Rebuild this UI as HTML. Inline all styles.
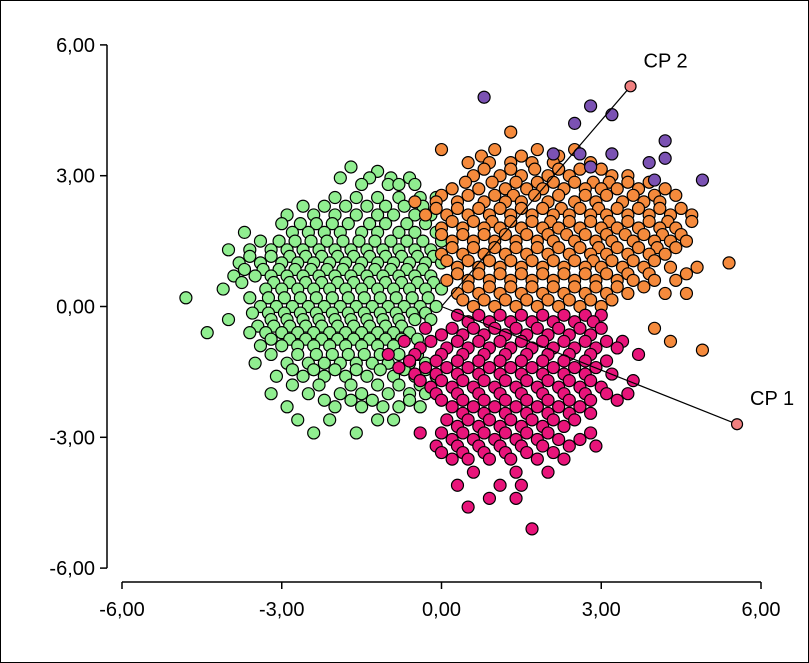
<!DOCTYPE html>
<html><head><meta charset="utf-8">
<style>
html,body{margin:0;padding:0;background:#fff;}
svg{display:block;font-family:"Liberation Sans",sans-serif;}
</style></head>
<body>
<svg id="chart" width="809" height="663" viewBox="0 0 809 663">
<rect x="0.5" y="0.5" width="808" height="662" fill="#fff" stroke="#000"/>
<g id="axes"></g>
<g id="marks"></g>
<g id="vectors"></g>
</svg>
<script>
const xTicks = [-6, -3, 0, 3, 6];
const yTicks = [6, 3, 0, -3, -6];
const tickLabels = {"-6":"-6,00","-3":"-3,00","0":"0,00","3":"3,00","6":"6,00"};
// rows: [y, [x values]]
const greenRows = [
[3.2,[-1.7]],[3.1,[-1.2]],
[2.95,[-1.9,-1.35,-0.95,-0.6]],
[2.8,[-1.5,-1.0,-0.5,-0.8]],
[2.5,[-2.0,-1.6,-1.2,-0.8,-0.4,-0.1]],
[2.3,[-2.6,-2.2,-1.8,-1.4,-1.05,-0.7,-0.35]],
[2.1,[-2.9,-2.4,-2.0,-1.6,-1.2,-0.9,-0.5,-0.2]],
[1.9,[-3.0,-2.65,-2.35,-2.05,-1.75,-1.35,-1.05,-0.65,-0.3]],
[1.7,[-3.7,-2.8,-2.5,-2.2,-1.9,-1.5,-1.2,-0.8,-0.5,-0.1]],
[1.5,[-3.4,-3.05,-2.75,-2.45,-2.15,-1.85,-1.55,-1.25,-0.95,-0.65,-0.35,0.0]],
[1.3,[-4.0,-3.6,-3.2,-2.9,-2.6,-2.3,-2.0,-1.7,-1.4,-1.1,-0.8,-0.5,-0.2]],
[1.15,[-3.6,-3.2,-2.85,-2.55,-2.25,-1.95,-1.65,-1.35,-1.05,-0.75,-0.45,-0.15]],
[1.0,[-3.8,-3.4,-3.0,-2.7,-2.4,-2.1,-1.8,-1.5,-1.2,-0.9,-0.6,-0.3,0.0]],
[0.85,[-3.7,-3.35,-3.05,-2.75,-2.45,-2.15,-1.85,-1.55,-1.25,-0.95,-0.65,-0.35]],
[0.7,[-3.9,-3.5,-3.2,-2.9,-2.6,-2.3,-2.0,-1.7,-1.4,-1.1,-0.8,-0.5,-0.2]],
[0.55,[-3.75,-3.15,-2.85,-2.55,-2.25,-1.95,-1.65,-1.35,-1.05,-0.75,-0.45,-0.15]],
[0.4,[-4.1,-3.3,-3.0,-2.7,-2.4,-2.1,-1.8,-1.5,-1.2,-0.9,-0.6,-0.3,0.0]],
[0.2,[-4.8,-3.6,-3.25,-2.95,-2.65,-2.35,-2.05,-1.75,-1.45,-1.15,-0.85,-0.55,-0.25]],
[0.0,[-3.4,-3.1,-2.8,-2.5,-2.2,-1.9,-1.6,-1.3,-1.0,-0.7,-0.4,-0.1]],
[-0.15,[-3.55,-3.25,-2.95,-2.65,-2.35,-2.05,-1.75,-1.45,-1.15,-0.85,-0.55,-0.3]],
[-0.3,[-4.0,-3.2,-2.9,-2.6,-2.3,-2.0,-1.7,-1.4,-1.1,-0.8,-0.5,-0.2]],
[-0.45,[-3.45,-3.15,-2.85,-2.55,-2.25,-1.95,-1.65,-1.35,-1.05,-0.75]],
[-0.6,[-4.4,-3.6,-3.3,-3.0,-2.7,-2.4,-2.1,-1.8,-1.5,-1.2,-0.9,-0.6]],
[-0.75,[-3.2,-2.85,-2.55,-2.25,-1.95,-1.65,-1.35,-1.05,-0.75,-0.45]],
[-0.9,[-3.4,-3.0,-2.7,-2.4,-2.1,-1.8,-1.5,-1.2,-0.9]],
[-1.1,[-3.2,-2.7,-2.35,-2.05,-1.75,-1.45,-1.15,-0.8,-0.45]],
[-1.3,[-3.5,-2.9,-2.5,-2.2,-1.9,-1.6,-1.3,-1.0,-0.6,-0.3]],
[-1.45,[-2.8,-2.4,-2.0,-1.6,-1.15,-0.7,-0.3]],
[-1.6,[-3.1,-2.6,-2.2,-1.8,-1.4,-0.9,-0.5,-0.1]],
[-1.8,[-2.8,-2.3,-1.7,-1.2,-0.8,-0.4]],
[-2.0,[-3.2,-2.5,-1.9,-1.5,-1.0,-0.6,-0.3]],
[-2.15,[-2.2,-1.7,-1.3,-0.6]],
[-2.3,[-2.9,-2.0,-1.5,-1.1,-0.8,-0.4]],
[-2.6,[-2.7,-2.1,-1.2,-0.9]],
[-2.9,[-2.4,-1.6]]
];
const orangeRows = [
[4.0,[1.3]],
[3.6,[0.0,1.0,1.8,2.5]],
[3.45,[0.75,1.5,2.2]],
[3.3,[0.5,0.9,1.3,1.7,2.1,2.8]],
[3.15,[0.8,1.3,1.75,2.2,2.6,3.0]],
[3.0,[0.6,1.1,1.5,2.0,2.4,3.2,3.5]],
[2.85,[0.45,0.95,1.4,1.8,2.1,2.5,2.85,3.15,3.5,3.9]],
[2.7,[0.2,0.7,1.2,1.6,1.9,2.3,2.7,3.0,3.3,3.7,4.2]],
[2.55,[0.0,0.5,1.0,1.35,1.75,2.2,2.7,3.1,3.6,4.0,4.4]],
[2.4,[-0.5,-0.1,0.3,0.8,1.2,1.5,2.0,2.5,2.9,3.4,3.8,4.1]],
[2.25,[-0.1,0.3,0.7,1.1,1.5,1.9,2.25,2.6,2.95,3.3,3.7,4.1,4.5]],
[2.1,[-0.3,0.1,0.5,0.9,1.3,1.7,2.1,2.4,2.8,3.1,3.5,3.9,4.3,4.7]],
[1.95,[0.2,0.6,0.95,1.3,1.7,2.05,2.4,2.8,3.15,3.5,3.9,4.25,4.7]],
[1.8,[0.0,0.4,0.8,1.1,1.5,1.9,2.2,2.6,3.0,3.3,3.7,4.1,4.4]],
[1.65,[0.0,0.4,0.8,1.2,1.6,2.0,2.35,2.7,3.1,3.45,3.8,4.15,4.5]],
[1.5,[0.2,0.6,1.0,1.4,1.8,2.1,2.5,2.9,3.2,3.6,4.0,4.3,4.6]],
[1.35,[0.2,0.6,1.0,1.4,1.8,2.2,2.6,2.95,3.3,3.7,4.05,4.4]],
[1.2,[0.0,0.4,0.8,1.2,1.6,2.0,2.4,2.8,3.1,3.5,3.9,4.2]],
[1.05,[0.1,0.5,0.9,1.3,1.7,2.1,2.5,2.85,3.2,3.6,4.0]],
[1.0,[5.4]],
[0.9,[0.3,0.7,1.1,1.5,1.9,2.3,2.7,3.0,3.4,3.8,4.3,4.8]],
[0.75,[0.3,0.7,1.1,1.5,1.9,2.3,2.7,3.1,3.5,3.9,4.6]],
[0.6,[0.1,0.5,0.9,1.3,1.7,2.1,2.5,2.9,3.3,3.6,4.0,4.4]],
[0.45,[0.5,0.9,1.3,1.7,2.1,2.5,2.9,3.3,3.8]],
[0.3,[0.3,0.7,1.1,1.5,1.9,2.3,2.7,3.1,3.5,4.2,4.6]],
[0.15,[0.4,0.8,1.2,1.6,2.0,2.4,2.8,3.2]],
[0.0,[0.6,1.0,1.4,1.8,2.2,2.6,3.0]],
[-0.5,[4.0]],[-0.8,[4.3]],[-1.0,[4.9]]
];
const pinkRows = [
[-0.2,[0.3,0.7,1.1,1.5,1.9,2.3,2.7,3.0]],
[-0.35,[0.5,0.9,1.3,1.7,2.1,2.5,2.85]],
[-0.5,[-0.3,0.2,0.6,1.0,1.4,1.8,2.2,2.6,3.0]],
[-0.65,[0.0,0.4,0.8,1.2,1.6,2.0,2.4,2.8]],
[-0.8,[-0.7,-0.2,0.3,0.7,1.1,1.5,1.9,2.3,2.7,3.1,3.4]],
[-0.95,[-0.4,0.1,0.5,0.9,1.3,1.7,2.1,2.5,2.9,3.3]],
[-1.1,[-1.0,-0.5,0.0,0.4,0.8,1.2,1.6,2.0,2.4,2.8,3.7]],
[-1.25,[-0.6,-0.1,0.3,0.7,1.1,1.5,1.9,2.3,2.7,3.1]],
[-1.4,[-0.8,-0.3,0.1,0.5,0.9,1.3,1.7,2.1,2.5,2.9]],
[-1.55,[-0.5,-0.1,0.3,0.7,1.1,1.5,1.9,2.3,2.7,3.2]],
[-1.7,[-0.4,0.0,0.4,0.8,1.2,1.6,2.0,2.4,2.8,3.6]],
[-1.85,[-0.2,0.2,0.6,1.0,1.4,1.8,2.2,2.6,3.0]],
[-2.0,[-0.1,0.3,0.7,1.1,1.5,1.9,2.3,2.7,3.1,3.5]],
[-2.15,[0.0,0.4,0.8,1.2,1.6,2.0,2.4,2.8,3.3]],
[-2.3,[0.2,0.6,1.0,1.4,1.8,2.2,2.6]],
[-2.45,[0.4,0.8,1.2,1.6,2.0,2.4,2.8]],
[-2.6,[0.1,0.5,0.9,1.3,1.7,2.1,2.5]],
[-2.75,[0.3,0.7,1.1,1.5,1.9,2.3]],
[-2.9,[-0.4,0.0,0.4,0.8,1.2,1.6,2.0,2.8]],
[-3.05,[0.2,0.6,1.0,1.4,1.8,2.2,2.6]],
[-3.2,[-0.1,0.3,0.7,1.1,1.5,1.9,2.4,2.9]],
[-3.35,[0.0,0.4,0.8,1.2,1.6,2.1]],
[-3.5,[0.2,0.5,0.9,1.3,1.8,2.3]],
[-3.8,[0.6,1.4,2.0]],
[-4.1,[0.3,1.1,1.5]],
[-4.4,[0.9,1.4]],
[-4.6,[0.5]],
[-5.1,[1.7]]
];
const purpleRows = [
[4.8,[0.8]],[4.6,[2.8]],[4.4,[3.2]],[4.2,[2.5]],
[3.8,[4.2]],[3.5,[2.1,2.6,3.2]],[3.4,[4.2]],[3.3,[3.9]],[3.2,[2.8]],[2.9,[4.0,4.9]]
];
const vectorNames = ["CP 1","CP 2"];
const vectorX = [5.55, 3.55];
const vectorY = [-2.7, 5.05];

const NS="http://www.w3.org/2000/svg";
const xs = v => 441.5 + v*53.25;
const ys = v => 306.5 - v*43.6;
function mk(tag, attrs, parent){const e=document.createElementNS(NS,tag);for(const k in attrs)e.setAttribute(k,attrs[k]);parent.appendChild(e);return e;}
const axes=document.getElementById('axes');
let l=mk('line',{x1:107,y1:ys(6),x2:107,y2:ys(-6),stroke:'#000','stroke-width':1.5},axes);


l=mk('line',{x1:xs(-6),y1:582,x2:xs(6),y2:582,stroke:'#000','stroke-width':1.5},axes);


yTicks.forEach(t=>{
  const tk=mk('line',{x1:100,y1:ys(t),x2:107,y2:ys(t),stroke:'#000','stroke-width':1.5},axes);
  
  
  const tx=mk('text',{x:95,y:ys(t)+7,'text-anchor':'end','font-size':20},axes);
  tx.textContent=tickLabels[t];
  
  
});
xTicks.forEach(t=>{
  const tk=mk('line',{x1:xs(t),y1:582,x2:xs(t),y2:589,stroke:'#000','stroke-width':1.5},axes);
  
  
  const tx=mk('text',{x:xs(t),y:616,'text-anchor':'middle','font-size':20},axes);
  tx.textContent=tickLabels[t];
  
  
});
const marks=document.getElementById('marks');
function drawRows(rows,color,name){
  rows.forEach(r=>r[1].forEach(x=>{
    const c=mk('circle',{cx:xs(x),cy:ys(r[0]),r:6,fill:color,stroke:'#000','stroke-width':1.2},marks);
    
    
  }));
}
drawRows(greenRows,'#90ee90','point-cluster-green');
drawRows(orangeRows,'#f58a3c','point-cluster-orange');
drawRows(pinkRows,'#e8147a','point-cluster-pink');
drawRows(purpleRows,'#7b52b3','point-cluster-purple');
const vec=document.getElementById('vectors');
vectorNames.forEach((n,i)=>{
  const ln=mk('line',{x1:xs(0),y1:ys(0),x2:xs(vectorX[i]),y2:ys(vectorY[i]),stroke:'#000','stroke-width':1.2},vec);
  
  
  const c=mk('circle',{cx:xs(vectorX[i]),cy:ys(vectorY[i]),r:5.5,fill:'#f08080',stroke:'#000','stroke-width':1.2},vec);
  
  
  const t=mk('text',{x:xs(vectorX[i])+13,y:ys(vectorY[i])-19,'font-size':20},vec);
  t.textContent=n;
  
  
});
</script>
</body></html>
